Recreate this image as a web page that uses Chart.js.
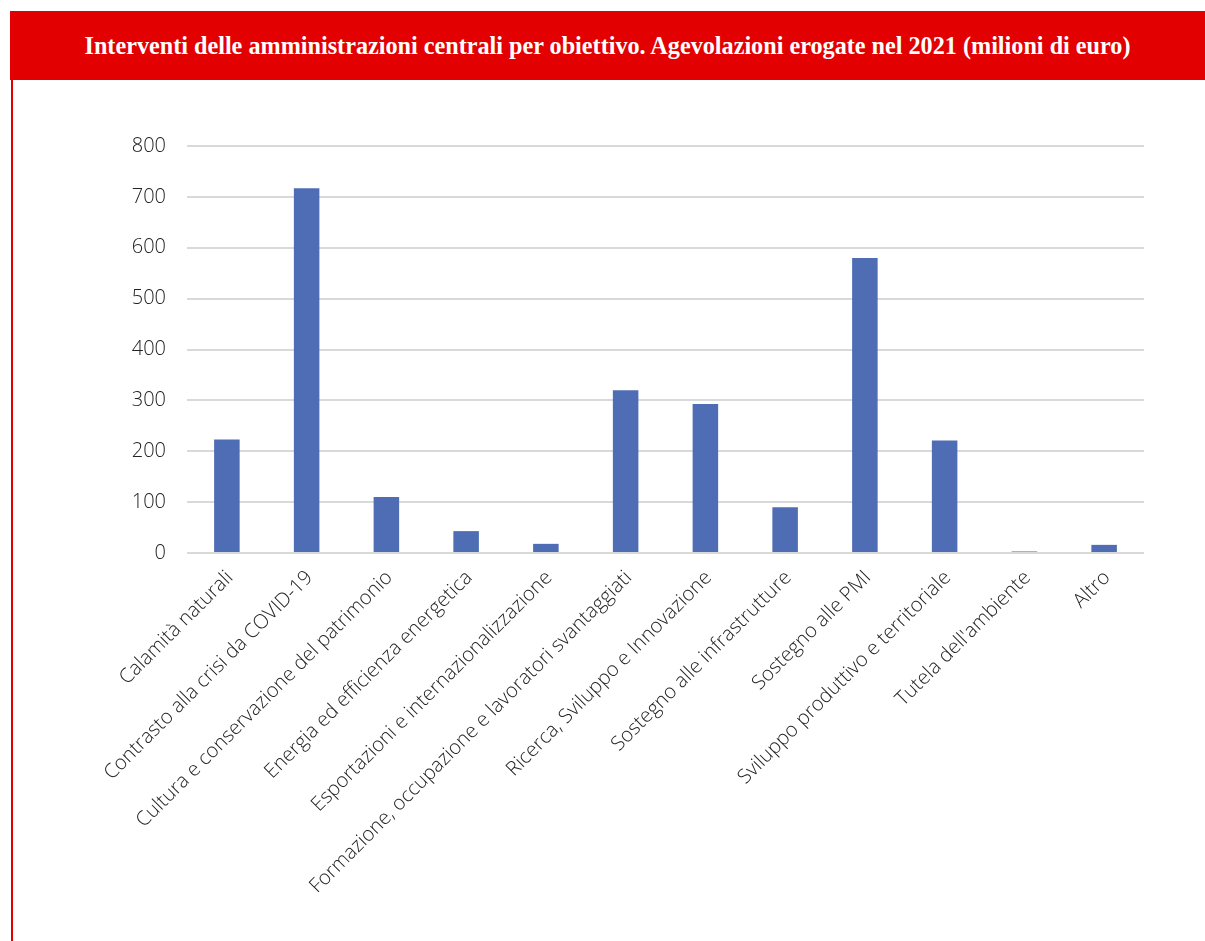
<!DOCTYPE html>
<html>
<head>
<meta charset="utf-8">
<script src="https://cdn.jsdelivr.net/npm/chart.js@4"></script>
<style>
  body { margin: 0; background: #fff; width: 1205px; height: 941px; position: relative; overflow: hidden; }
  #header {
    position: absolute; left: 10px; top: 11px; width: 1195px; height: 69px;
    background: #e30000; color: #fff; text-align: center;
    font: bold 24.2px "Liberation Serif", "DejaVu Serif", serif; line-height: 69px;
  }
  #leftline { position: absolute; left: 11px; top: 80px; width: 2px; bottom: 0; background: #e30000; }
  #wrap { position: absolute; left: 0; top: 80px; width: 1205px; height: 861px; }
</style>
</head>
<body>
<div id="header">Interventi delle amministrazioni centrali per obiettivo. Agevolazioni erogate nel 2021 (milioni di euro)</div>
<div id="leftline"></div>
<div id="wrap"><canvas id="chart"></canvas></div>
<script>
const categories = [
  'Calamità naturali',
  'Contrasto alla crisi da COVID-19',
  'Cultura e conservazione del patrimonio',
  'Energia ed efficienza energetica',
  'Esportazioni e internazionalizzazione',
  'Formazione, occupazione e lavoratori svantaggiati',
  'Ricerca, Sviluppo e Innovazione',
  'Sostegno alle infrastrutture',
  'Sostegno alle PMI',
  'Sviluppo produttivo e territoriale',
  "Tutela dell'ambiente",
  'Altro'
];
const values = [223, 717, 110, 43, 18, 320, 293, 90, 580, 221, 3, 16];
const yTicks = [0, 100, 200, 300, 400, 500, 600, 700, 800];

const ctx = document.getElementById('chart').getContext('2d');
new Chart(ctx, {
  type: 'bar',
  data: {
    labels: categories,
    datasets: [{
      data: values,
      backgroundColor: '#4f6db4',
      borderWidth: 0,
      barPercentage: 0.32,
      categoryPercentage: 1
    }]
  },
  options: {
    responsive: true,
    maintainAspectRatio: false,
    animation: false,
    layout: { padding: { left: 100, right: 61, top: 66, bottom: 0 } },
    plugins: { legend: { display: false }, tooltip: { enabled: false } },
    scales: {
      x: {
        grid: { display: false },
        border: { display: false },
        ticks: {
          color: '#222',
          font: { family: 'Open Sans', size: 20, weight: 300 },
          minRotation: 45, maxRotation: 45, autoSkip: false, padding: 5, labelOffset: 3
        },
        afterFit: (scale) => { scale.height = 388; }
      },
      y: {
        min: 0, max: 800,
        afterBuildTicks: (scale) => { scale.ticks = yTicks.map(v => ({ value: v })); },
        grid: { color: '#d9d9d9', lineWidth: 2, drawTicks: false },
        border: { display: false },
        ticks: {
          color: '#222',
          font: { family: 'Open Sans', size: 20, weight: 300 },
          padding: 21
        },
        afterFit: (scale) => { scale.width = 87; }
      }
    }
  }
});
</script>
</body>
</html>
